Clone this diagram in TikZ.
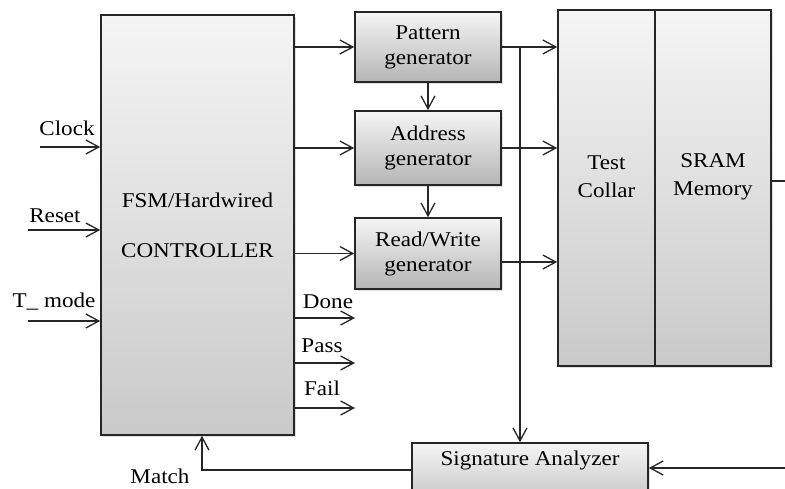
\documentclass[tikz,border=0pt]{standalone}
\usepackage{fontspec}
\setmainfont{Liberation Serif}[FakeStretch=1.1]
\usetikzlibrary{calc,arrows.meta,shadows}

\begin{document}
\begin{tikzpicture}[x=1pt, y=-1pt,
    font=\fontsize{21}{25}\selectfont,
    blk/.style={draw=black!85, line width=1.6pt, top color=gray!8,
        bottom color=gray!42, inner sep=0pt,
        drop shadow={shadow xshift=2pt, shadow yshift=-2pt, opacity=0.25}},
    gen/.style={blk, bottom color=gray!58, minimum width=146pt, align=center},
    wire/.style={line width=1.3pt, draw=black!85},
    arr/.style={wire, -{Straight Barb[length=13pt,width=14pt,line width=1.3pt]}}]

        % Page size, everything outside is cut
        \useasboundingbox (0, 0) rectangle (785, 489);
        \clip (0, 0) rectangle (785, 489);

        % Controller and the three generators in a column
        \node[blk, minimum width=193pt, minimum height=420pt, align=center]
            (ctrl) at (197.5, 225) {FSM/Hardwired\\[25pt]CONTROLLER};
        \node[gen, minimum height=70pt] (pat) at (428, 47) {Pattern\\generator};
        \node[gen, minimum height=74pt] (addr) at (428, 148) {Address\\generator};
        \node[gen, minimum height=71pt] (rw) at (428, 253.5) {Read/Write\\generator};

        % Memory side, the text sits a bit above the middle
        \node[blk, minimum width=97pt, minimum height=356pt] (collar) at (606.5, 188) {};
        \node[blk, minimum width=116pt, minimum height=356pt] (sram) at (713, 188) {};
        \node[align=center] (collartxt) at (606.5, 177) {Test\\[3pt]Collar};
        \node[align=center] (sramtxt) at (713, 177) {SRAM\\[3pt]Memory};

        \node[blk, minimum width=236pt, minimum height=54pt] (sa) at (530, 470) {};
        \node (satxt) at (530, 460) {Signature Analyzer};

        % Free ends of the inputs and outputs
        \coordinate (clk) at (40, 147);
        \coordinate (rst) at (28, 230);
        \coordinate (tm) at (28, 321);
        \coordinate (done) at (355, 318);
        \coordinate (pass) at (355, 363);
        \coordinate (fail) at (355, 408);
        \coordinate (tap) at (520, 47);
        \coordinate (memout) at (790, 181);
        \coordinate (sain) at (790, 468);

        \node at (67, 128) (clklbl) {Clock};
        \node at (55, 216) (rstlbl) {Reset};
        \node at (54, 302) (tmlbl) {T\_ mode};
        \node at (328, 302) (donelbl) {Done};
        \node at (322, 346) (passlbl) {Pass};
        \node at (322, 388) (faillbl) {Fail};
        \node at (160, 476) (matchlbl) {Match};

        \begin{scope}
            \draw[arr] (clk) -- (clk -| ctrl.west);
            \draw[arr] (rst) -- (rst -| ctrl.west);
            \draw[arr] (tm) -- (tm -| ctrl.west);

            \draw[arr] (done -| ctrl.east) -- (done);
            \draw[arr] (pass -| ctrl.east) -- (pass);
            \draw[arr] (fail -| ctrl.east) -- (fail);

            \draw[arr] (ctrl.east |- pat.west) -- (pat.west);
            \draw[arr] (ctrl.east |- addr.west) -- (addr.west);
            \draw[arr] (ctrl.east |- rw.west) -- (rw.west);

            \draw[arr] (pat) -- (addr);
            \draw[arr] (addr) -- (rw);

            \draw[arr] (pat.east) -- (pat.east -| collar.west);
            \draw[arr] (addr.east) -- (addr.east -| collar.west);
            \draw[arr] ([yshift=-8.5pt]rw.east) -- ([yshift=-8.5pt]rw.east -| collar.west);

            \draw[arr] (tap) -- (tap |- sa.north);
            \draw[wire] ([yshift=7pt]sram.east) -- (memout);
            \draw[arr] (sain) -- (sain -| sa.east);
            \draw[arr] (sa.west) -| ([xshift=4.5pt]ctrl.south);
        \end{scope}

\end{tikzpicture}
\end{document}
